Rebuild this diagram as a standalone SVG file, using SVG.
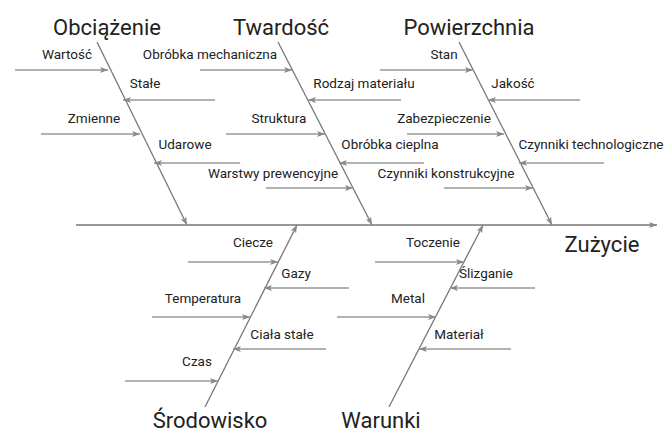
<svg xmlns="http://www.w3.org/2000/svg" width="672" height="432" viewBox="0 0 672 432">
<defs>
<marker id="ah" markerUnits="userSpaceOnUse" markerWidth="10" markerHeight="8" refX="8" refY="4" orient="auto">
<path d="M0,1 L8,4 L0,7 L2,4 Z" fill="#888"/>
</marker>
<style>
.bone{stroke:#777;stroke-width:1.3;fill:none}
.sub{stroke:#999;stroke-width:1.6;fill:none}
.t{font-family:Roboto,"Liberation Sans",sans-serif;font-size:13.5px;fill:#222;text-anchor:middle}
.h{font-family:Roboto,"Liberation Sans",sans-serif;font-size:22px;fill:#222;text-anchor:middle}
</style>
</defs>
<rect width="672" height="432" fill="#fff"/>
<g id="connectors">
<line class="bone" x1="76" y1="225" x2="657" y2="225" marker-end="url(#ah)"/>
<line class="bone" x1="97" y1="42" x2="187" y2="225" marker-end="url(#ah)"/>
<line class="bone" x1="278" y1="42" x2="372" y2="225" marker-end="url(#ah)"/>
<line class="bone" x1="459" y1="42" x2="552" y2="225" marker-end="url(#ah)"/>
<line class="bone" x1="205" y1="407" x2="297" y2="225" marker-end="url(#ah)"/>
<line class="bone" x1="389" y1="407" x2="483" y2="225" marker-end="url(#ah)"/>
<line class="sub" x1="15" y1="70" x2="108" y2="70" marker-end="url(#ah)"/>
<line class="sub" x1="215" y1="100" x2="123" y2="100" marker-end="url(#ah)"/>
<line class="sub" x1="41" y1="134" x2="140" y2="134" marker-end="url(#ah)"/>
<line class="sub" x1="240" y1="163" x2="154" y2="163" marker-end="url(#ah)"/>
<line class="sub" x1="200" y1="70" x2="292" y2="70" marker-end="url(#ah)"/>
<line class="sub" x1="401" y1="100" x2="308" y2="100" marker-end="url(#ah)"/>
<line class="sub" x1="226" y1="134" x2="325" y2="134" marker-end="url(#ah)"/>
<line class="sub" x1="424" y1="163" x2="339" y2="163" marker-end="url(#ah)"/>
<line class="sub" x1="266" y1="188" x2="353" y2="188" marker-end="url(#ah)"/>
<line class="sub" x1="380" y1="70" x2="473" y2="70" marker-end="url(#ah)"/>
<line class="sub" x1="580" y1="100" x2="488" y2="100" marker-end="url(#ah)"/>
<line class="sub" x1="407" y1="134" x2="504" y2="134" marker-end="url(#ah)"/>
<line class="sub" x1="604" y1="163" x2="519" y2="163" marker-end="url(#ah)"/>
<line class="sub" x1="444" y1="188" x2="533" y2="188" marker-end="url(#ah)"/>
<line class="sub" x1="188" y1="262" x2="278" y2="262" marker-end="url(#ah)"/>
<line class="sub" x1="349" y1="288" x2="264" y2="288" marker-end="url(#ah)"/>
<line class="sub" x1="152" y1="317" x2="250" y2="317" marker-end="url(#ah)"/>
<line class="sub" x1="326" y1="349" x2="233" y2="349" marker-end="url(#ah)"/>
<line class="sub" x1="125" y1="381" x2="218" y2="381" marker-end="url(#ah)"/>
<line class="sub" x1="375" y1="262" x2="464" y2="262" marker-end="url(#ah)"/>
<line class="sub" x1="535" y1="288" x2="450" y2="288" marker-end="url(#ah)"/>
<line class="sub" x1="337" y1="317" x2="436" y2="317" marker-end="url(#ah)"/>
<line class="sub" x1="511" y1="349" x2="419" y2="349" marker-end="url(#ah)"/>
</g>
<g id="effect"><text class="h" x="602" y="252">Zużycie</text></g>
<g id="obciazenie">
<text class="h" x="107" y="35">Obciążenie</text>
<text class="t" x="67" y="59">Wartość</text>
<text class="t" x="145" y="88">Stałe</text>
<text class="t" x="94" y="123">Zmienne</text>
<text class="t" x="185" y="149">Udarowe</text>
</g>
<g id="twardosc">
<text class="h" x="281" y="35">Twardość</text>
<text class="t" x="210" y="59">Obróbka mechaniczna</text>
<text class="t" x="364" y="88">Rodzaj materiału</text>
<text class="t" x="279" y="123">Struktura</text>
<text class="t" x="390" y="149">Obróbka cieplna</text>
<text class="t" x="273" y="178">Warstwy prewencyjne</text>
</g>
<g id="powierzchnia">
<text class="h" x="469" y="35">Powierzchnia</text>
<text class="t" x="444" y="59">Stan</text>
<text class="t" x="513" y="88">Jakość</text>
<text class="t" x="444" y="123">Zabezpieczenie</text>
<text class="t" x="591" y="149">Czynniki technologiczne</text>
<text class="t" x="446" y="178">Czynniki konstrukcyjne</text>
</g>
<g id="srodowisko">
<text class="h" x="210" y="428">Środowisko</text>
<text class="t" x="253" y="247">Ciecze</text>
<text class="t" x="296" y="278">Gazy</text>
<text class="t" x="203" y="303">Temperatura</text>
<text class="t" x="282" y="339">Ciała stałe</text>
<text class="t" x="197" y="366">Czas</text>
</g>
<g id="warunki">
<text class="h" x="381" y="428">Warunki</text>
<text class="t" x="433" y="247">Toczenie</text>
<text class="t" x="486" y="278">Ślizganie</text>
<text class="t" x="408" y="303">Metal</text>
<text class="t" x="459" y="339">Materiał</text>
</g>
</svg>
